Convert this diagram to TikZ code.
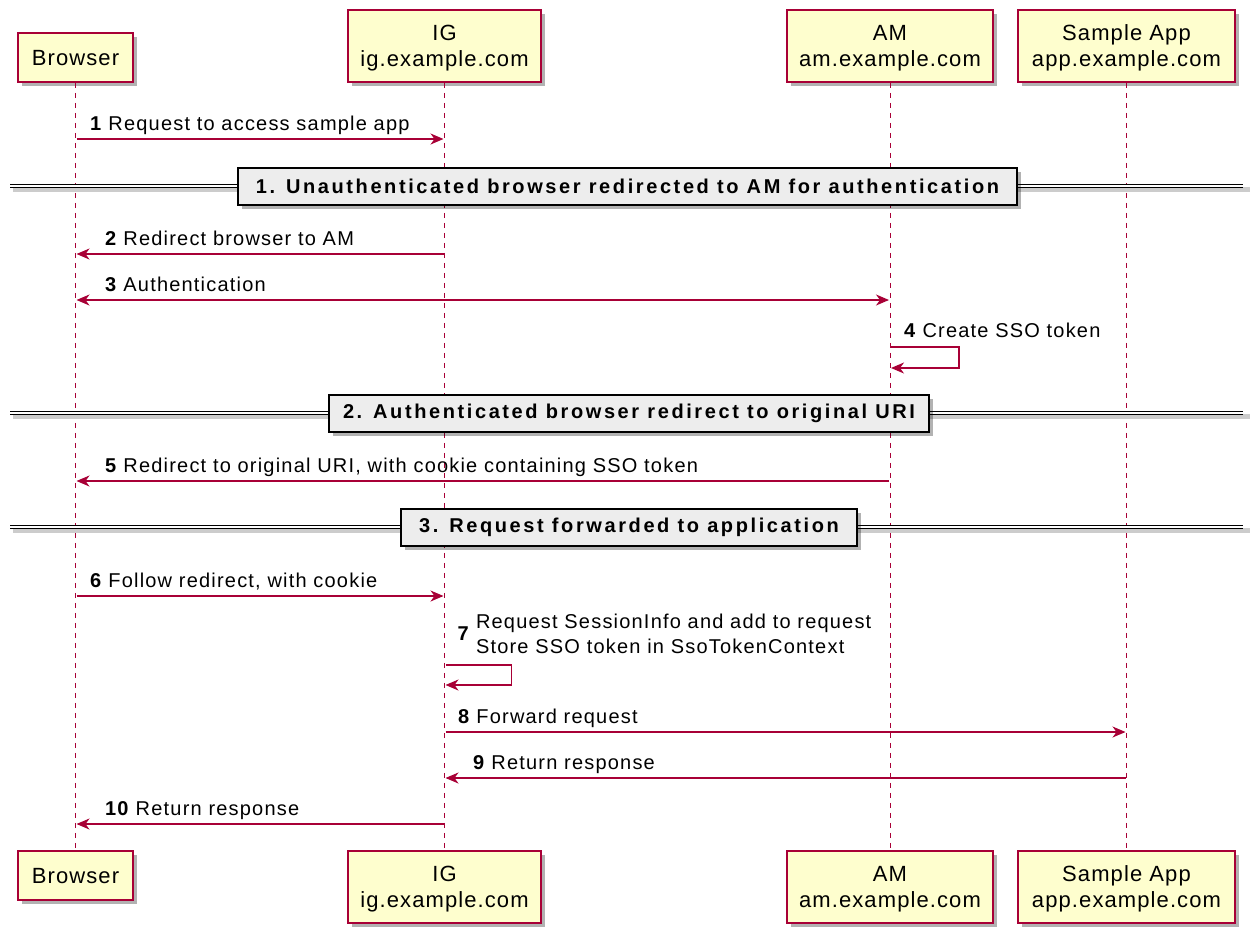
\documentclass[tikz,border=0pt]{standalone}
\usepackage{fontspec}
\setmainfont{Liberation Sans}[LetterSpace=6]
\newfontfamily\partfont{Liberation Sans}[LetterSpace=5]
\newfontfamily\sepfont{Liberation Sans}[LetterSpace=13]
\usetikzlibrary{arrows.meta,shadows}
\definecolor{umlred}{HTML}{A80036}
\definecolor{umlfill}{HTML}{FEFECE}
\begin{document}
\begin{tikzpicture}[x=1pt, y=-1pt, shorten >=1pt, shorten <=1pt,
part/.style={rectangle,draw=umlred,fill=umlfill,line width=1.5pt,align=center,inner sep=0pt,text depth=0pt,font=\partfont\fontsize{22}{26}\selectfont,drop shadow={shadow xshift=4pt,shadow yshift=-4pt,fill=black,opacity=.3}},
life/.style={draw=umlred,line width=1pt,dash pattern=on 5pt off 5pt,shorten >=0pt,shorten <=0pt},
tip/.tip={Stealth[length=13pt,width=11pt,inset=4pt]},
msg/.style={draw=umlred,line width=1.2pt,-tip},
lbl/.style={font=\fontsize{20}{25}\selectfont,inner sep=0pt,align=left},
sep/.style={rectangle,draw=black,fill=black!7,line width=2pt,minimum height=37pt,inner sep=0pt,font=\sepfont\bfseries\fontsize{20}{24}\selectfont,drop shadow={shadow xshift=4pt,shadow yshift=-4pt,fill=black,opacity=.3}},
sepline/.style={draw=black,line width=1.3pt,double=white,double distance=2.2pt,shorten >=0pt,shorten <=0pt},
sepshadow/.style={draw=black!20,line width=5pt,shorten >=0pt,shorten <=0pt}]
\useasboundingbox (0,0) rectangle (1257,926);
\begin{scope}
\node[part,minimum width=115pt,minimum height=49pt] (br1) at (75.5,57.5) {Browser};
\node[part,minimum width=193pt,minimum height=72pt] (ig1) at (444.5,46) {IG\\ig.example.com};
\node[part,minimum width=206pt,minimum height=72pt] (am1) at (890,46) {AM\\am.example.com};
\node[part,minimum width=217pt,minimum height=72pt] (app1) at (1126.5,46) {Sample App\\app.example.com};
\node[part,minimum width=115pt,minimum height=49pt] (br2) at (75.5,875.5) {Browser};
\node[part,minimum width=193pt,minimum height=72pt] (ig2) at (444.5,887) {IG\\ig.example.com};
\node[part,minimum width=206pt,minimum height=72pt] (am2) at (890,887) {AM\\am.example.com};
\node[part,minimum width=217pt,minimum height=72pt] (app2) at (1126.5,887) {Sample App\\app.example.com};
\end{scope}
\foreach \p in {br,ig,am,app}
  \draw[life] (\p1.south) -- (\p2.north);
% rows of the messages
\foreach \n/\y in {1/139,2/254,3/300,4/347,4b/368,5/481,6/596,7/665,7b/685,8/732,9/778,10/824}
  \coordinate (r\n) at (0,\y);
% separators
\begin{scope}
\coordinate (sl1) at (10,186); \coordinate (sr1) at (1243,186);
\coordinate (sl2) at (10,413); \coordinate (sr2) at (1243,413);
\coordinate (sl3) at (10,527); \coordinate (sr3) at (1243,527);
\foreach \n in {1,2,3} {
  \draw[sepshadow] ([xshift=3pt,yshift=-3pt]sl\n) -- ([xshift=7pt,yshift=-3pt]sr\n);
  \draw[sepline] (sl\n) -- (sr\n);
}
\node[sep,minimum width=779pt] (s1) at (627.5,186.5) {1. Unauthenticated browser redirected to AM for authentication};
\node[sep,minimum width=600pt] (s2) at (629,413) {2. Authenticated browser redirect to original URI};
\node[sep,minimum width=456pt] (s3) at (629,527) {3. Request forwarded to application};
\end{scope}
% messages
\begin{scope}
\draw[msg] (br1 |- r1) -- node[lbl,at start,anchor=base west,xshift=14pt,yshift=9pt] {\textbf{1}\hspace{6pt}Request to access sample app} (ig1 |- r1);
\draw[msg] (ig1 |- r2) -- node[lbl,at end,anchor=base west,xshift=29pt,yshift=9pt] {\textbf{2}\hspace{6pt}Redirect browser to AM} (br1 |- r2);
\draw[msg,tip-tip] (br1 |- r3) -- node[lbl,at start,anchor=base west,xshift=29pt,yshift=9pt] {\textbf{3}\hspace{6pt}Authentication} (am1 |- r3);
\draw[msg] (am1 |- r4) -| ++(69,21) -- (am1 |- r4b);
\node[lbl,anchor=base west,xshift=14pt,yshift=10pt] (l4) at (am1 |- r4) {\textbf{4}\hspace{6pt}Create SSO token};
\draw[msg] (am1 |- r5) -- node[lbl,at end,anchor=base west,xshift=29pt,yshift=9pt] {\textbf{5}\hspace{6pt}Redirect to original URI, with cookie containing SSO token} (br1 |- r5);
\draw[msg] (br1 |- r6) -- node[lbl,at start,anchor=base west,xshift=14pt,yshift=9pt] {\textbf{6}\hspace{6pt}Follow redirect, with cookie} (ig1 |- r6);
\draw[msg] (ig1 |- r7) -| ++(67,20) -- (ig1 |- r7b);
\node[lbl,anchor=south west,xshift=13pt,yshift=4pt] (l7) at (ig1 |- r7) {\textbf{7}\hspace{6pt}\begin{tabular}{@{}l@{}}Request SessionInfo and add to request\\Store SSO token in SsoTokenContext\end{tabular}};
\draw[msg] (ig1 |- r8) -- node[lbl,at start,anchor=base west,xshift=13pt,yshift=9pt] {\textbf{8}\hspace{6pt}Forward request} (app1 |- r8);
\draw[msg] (app1 |- r9) -- node[lbl,at end,anchor=base west,xshift=28pt,yshift=9pt] {\textbf{9}\hspace{6pt}Return response} (ig1 |- r9);
\draw[msg] (ig1 |- r10) -- node[lbl,at end,anchor=base west,xshift=29pt,yshift=9pt] {\textbf{10}\hspace{6pt}Return response} (br1 |- r10);
\end{scope}
\end{tikzpicture}
\end{document}
